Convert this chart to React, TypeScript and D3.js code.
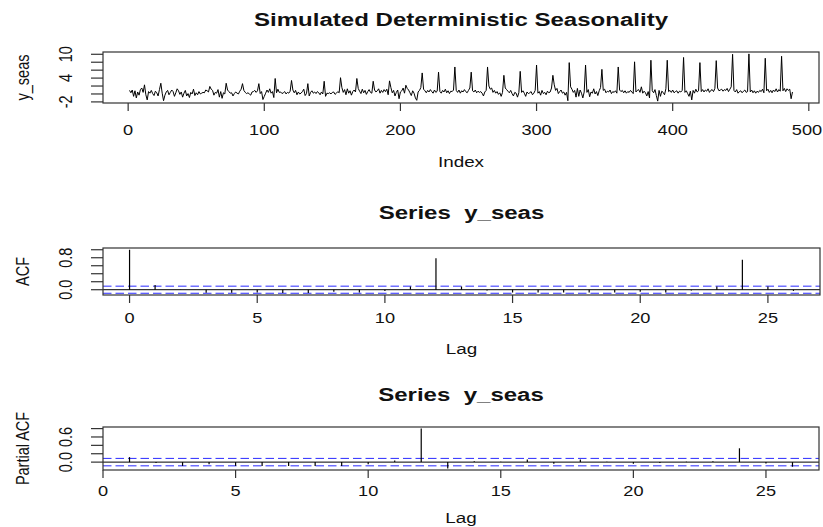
import React from 'react';
import * as d3 from 'd3';

// Simulated series (one row = one 12-step season, peak at the end of each row)
const ySeas: number[] = [
  0.9, 0.3, 1.0, -0.6, 0.8, -1.0, 0.5, -0.3, 1.1, 1.5, 0.4, 2.3,
  -0.2, -1.5, 0.6, 0.2, 0.9, 0.1, -0.4, 0.7, 0.3, -0.5, 1.1, 2.7,
  0.2, -1.7, -0.3, 0.5, 0.9, -0.2, 0.4, 1.0, 0.6, -0.6, 0.3, 1.3,
  0.8, -0.1, 0.5, -0.8, 0.2, 0.9, -0.5, 0.1, -0.9, 0.4, 0.0, 1.2,
  -0.4, 0.3, -0.2, 0.6, 0.0, 0.2, 0.4, 0.3, 1.0, 0.8, 0.5, 1.9,
  1.2, 0.9, -0.3, 0.4, 0.2, 1.1, -0.8, 0.6, -1.1, 0.3, 0.0, 2.7,
  1.0, 0.6, 0.2, 0.3, -0.5, 0.1, 0.5, 0.2, 0.0, 0.7, 1.2, 2.6,
  0.9, 0.4, 0.1, 0.3, 0.0, -0.3, 0.5, 0.6, 0.9, 0.4, 0.8, 2.6,
  0.1, 0.6, -1.4, -0.6, 0.2, 1.0, 0.4, 1.3, 0.2, 0.6, -0.9, 3.9,
  0.3, 1.2, 0.4, 0.5, 0.1, 0.3, 0.6, 0.0, 0.4, 0.2, 0.7, 3.4,
  1.0, 0.3, 0.9, -0.2, 0.5, 0.0, 0.2, 0.6, 1.2, -0.4, 0.1, 2.6,
  -0.5, 0.4, 0.8, 0.2, 0.5, 0.1, 0.6, 0.3, -0.2, 0.5, 0.0, 3.2,
  -0.6, 0.2, 0.1, 0.3, 0.0, 0.4, 0.5, -0.1, 0.2, 0.6, 0.3, 4.1,
  1.6, 0.4, 1.1, -0.2, 1.3, 0.2, 0.8, -0.3, 0.6, 1.0, 0.5, 3.9,
  1.4, 0.7, 0.1, 1.2, 0.3, 0.9, -0.1, 0.6, 1.1, 0.4, 0.2, 3.2,
  1.0, 0.5, 0.8, 1.3, 0.2, 0.9, 0.4, 1.1, 0.6, 1.2, -0.2, 3.3,
  1.6, 0.3, 0.9, -0.5, 0.4, 1.0, -1.2, 0.5, 0.8, 1.5, 0.2, 2.2,
  1.4, 1.0, 0.3, -0.4, 0.8, 0.2, -1.0, -1.6, 0.5, 0.9, 1.6, 5.3,
  1.2, 0.8, 0.3, 0.9, 0.5, 1.1, 0.6, 0.2, 1.0, 0.4, 0.7, 5.5,
  0.6, 0.2, 0.9, 0.5, 1.2, 0.3, 0.8, 0.1, 0.7, 0.6, 1.0, 6.8,
  0.9, 0.4, 1.0, 0.2, 0.8, 0.5, 1.1, 0.6, 0.3, 0.9, 1.5, 5.5,
  0.8, 0.5, 1.0, 0.3, 0.7, 0.4, 0.6, 0.2, -0.5, 0.5, 0.9, 6.8,
  2.0, 1.2, 1.5, 0.4, 0.9, 0.2, 0.6, -0.1, 0.3, -0.6, 0.4, 4.7,
  1.5, 1.1, 0.7, 0.3, 0.9, 0.1, -0.5, 0.4, 0.2, -0.8, 0.3, 5.7,
  0.4, 0.8, 0.2, -0.6, 0.5, 0.1, 0.3, 0.6, -0.2, 0.2, 0.9, 7.3,
  0.2, 0.6, -0.3, 0.9, 0.1, 0.4, -0.2, 0.7, 0.3, 0.5, 1.5, 4.7,
  2.3, 0.9, 1.4, 0.1, 0.6, 1.0, 0.2, 0.5, -0.3, 0.4, -1.7, 7.9,
  1.8, 1.2, 0.4, 0.9, -0.8, 1.4, -0.6, 1.0, 0.2, -1.0, 0.5, 7.3,
  0.4, 1.1, -0.7, 0.5, 0.2, 1.3, 0.0, 0.6, -0.4, 0.8, 1.6, 6.2,
  0.9, 1.2, 0.3, 0.7, 0.5, 1.0, 0.1, 0.6, 0.4, 0.8, 0.2, 6.8,
  1.0, 0.6, 0.9, 0.3, 0.8, 0.2, 0.6, 0.4, 0.9, 0.5, 0.1, 8.1,
  0.5, 0.9, 1.1, 0.4, 1.8, 0.2, 0.7, 0.3, -0.5, 0.6, -1.0, 8.5,
  0.8, 0.3, 1.1, -0.4, -1.8, 0.9, -0.6, 0.7, 0.4, -0.2, 1.3, 8.5,
  0.6, 0.9, 0.4, 1.0, 0.3, 0.6, 0.8, 0.2, 0.7, 0.5, 0.9, 9.2,
  0.4, 0.8, 0.1, -0.6, 0.7, -1.5, 0.9, 0.2, 1.2, 0.5, 0.8, 7.9,
  0.6, 1.1, 0.5, 1.0, 0.7, 1.3, 0.4, 0.9, 1.1, 0.6, 1.4, 8.4,
  1.5, 0.8, 1.0, 1.2, 0.7, 1.1, 0.9, 1.4, 0.6, 1.2, 1.8, 10.0,
  0.9, 0.5, 1.1, 0.2, 0.6, 0.8, 0.3, 0.7, 1.0, 0.4, 0.6, 10.1,
  0.5, 1.0, 0.3, 0.8, 0.2, 0.7, 0.4, 0.9, 0.6, 1.2, 0.3, 9.0,
  0.8, 1.2, 0.4, 0.9, 0.3, 1.0, 0.6, 1.3, 0.5, 1.1, 0.7, 9.5,
  0.8, 1.4, 0.6, 1.3, 0.9, 1.2, -1.2, 0.5,
];

const acfLags: number[] = [0, 1, 2, 3, 4, 5, 6, 7, 8, 9, 10, 11, 12, 13, 14, 15, 16, 17, 18, 19, 20, 21, 22, 23, 24, 25, 26];
const acfValues: number[] = [1.0, 0.12, -0.01, -0.075, -0.075, -0.07, -0.08, -0.08, -0.05, -0.07, -0.03, 0.08, 0.79, 0.08, -0.02, -0.07, -0.07, -0.07, -0.07, -0.07, -0.05, -0.07, -0.02, 0.08, 0.75, 0.08, -0.03];

const pacfLags: number[] = [1, 2, 3, 4, 5, 6, 7, 8, 9, 10, 11, 12, 13, 14, 15, 16, 17, 18, 19, 20, 21, 22, 23, 24, 25, 26];
const pacfValues: number[] = [0.12, -0.02, -0.09, -0.05, -0.09, -0.09, -0.09, -0.09, -0.09, -0.05, 0.04, 0.80, -0.15, 0.02, 0.01, 0.06, -0.04, 0.06, 0.01, -0.04, -0.02, 0.01, 0.02, 0.33, -0.03, -0.11];

const seriesXTicks: number[] = [0, 100, 200, 300, 400, 500];
const seriesYTicks: number[] = [-2, 0, 2, 4, 6, 8, 10];
const seriesYLabels: number[] = [-2, 4, 10];
const lagXTicks: number[] = [0, 5, 10, 15, 20, 25];
const acfYTicks: number[] = [0, 0.2, 0.4, 0.6, 0.8, 1.0];
const acfYLabels: number[] = [0, 0.8];
const pacfYTicks: number[] = [0, 0.2, 0.4, 0.6, 0.8];
const pacfYLabels: number[] = [0, 0.6];

const W = 823;
const H = 527;
const FONT = "'Liberation Sans', Arial, Helvetica, sans-serif";
const SX = 1.3;
const AXIS = '#333';

function Txt(props: { x: number; y: number; children: any; size?: number; bold?: boolean; rotate?: number; anchor?: string }) {
  const { x, y, children, size = 14.5, bold = false, rotate = 0, anchor = 'middle' } = props;
  return (
    <text
      transform={`translate(${x},${y}) scale(${SX},1)${rotate ? ` rotate(${rotate})` : ''}`}
      fontSize={size}
      fontWeight={bold ? 'bold' : 'normal'}
      textAnchor={anchor as any}
      fontFamily={FONT}
      fill="#111"
      xmlSpace="preserve"
      style={{ whiteSpace: 'pre' }}
    >
      {children}
    </text>
  );
}

function pad(lo: number, hi: number): [number, number] {
  const r = hi - lo;
  return [lo - 0.04 * r, hi + 0.04 * r];
}

type Box = { x0: number; x1: number; y0: number; y1: number };

function Frame(props: {
  box: Box;
  xs: d3.ScaleLinear<number, number>;
  ys: d3.ScaleLinear<number, number>;
  xTicks: number[];
  yTicks: number[];
  yLabels: number[];
  yFmt: (v: number) => string;
  xLabelY: number;
  xTitle: string;
  xTitleY: number;
  yTitle: string;
  title: string;
  titleY: number;
  titleSize: number;
}) {
  const { box, xs, ys, xTicks, yTicks, yLabels, yFmt, xLabelY, xTitle, xTitleY, yTitle, title, titleY, titleSize } = props;
  const cx = (box.x0 + box.x1) / 2;
  const cy = (box.y0 + box.y1) / 2;
  return (
    <g>
      <rect x={box.x0} y={box.y0} width={box.x1 - box.x0} height={box.y1 - box.y0} fill="none" stroke={AXIS} strokeWidth={1.2} />
      {xTicks.map((t) => (
        <g key={'xt' + t}>
          <line x1={xs(t)} x2={xs(t)} y1={box.y1} y2={box.y1 + 8} stroke={AXIS} strokeWidth={1.2} />
          <Txt x={Math.min(xs(t), W - 16)} y={xLabelY} size={14}>{String(t)}</Txt>
        </g>
      ))}
      {yTicks.map((t) => (
        <line key={'yt' + t} x1={box.x0 - 12} x2={box.x0} y1={ys(t)} y2={ys(t)} stroke={AXIS} strokeWidth={1.2} />
      ))}
      {yLabels.map((t) => (
        <Txt key={'yl' + t} x={72} y={ys(t)} rotate={-90}>{yFmt(t)}</Txt>
      ))}
      <Txt x={cx} y={xTitleY}>{xTitle}</Txt>
      <Txt x={29} y={cy} rotate={-90}>{yTitle}</Txt>
      <Txt x={cx} y={titleY} bold size={titleSize}>{title}</Txt>
    </g>
  );
}

export default function App() {
  const n = ySeas.length;

  // Panel 1: series
  const b1: Box = { x0: 103, x1: 819, y0: 52, y1: 103 };
  const xs1 = d3.scaleLinear().domain(pad(1, n)).range([b1.x0, b1.x1]);
  const ext = d3.extent(ySeas) as [number, number];
  const ys1 = d3.scaleLinear().domain(pad(ext[0], ext[1])).range([b1.y1, b1.y0]);
  const line = d3
    .line<number>()
    .x((_, i) => xs1(i + 1))
    .y((d) => ys1(d));

  const ci = 1.96 / Math.sqrt(n);

  // Panel 2: ACF
  const b2: Box = { x0: 103, x1: 820, y0: 248, y1: 295 };
  const xs2 = d3.scaleLinear().domain(pad(acfLags[0], acfLags[acfLags.length - 1])).range([b2.x0, b2.x1]);
  const ys2 = d3
    .scaleLinear()
    .domain(pad(Math.min(-ci, d3.min(acfValues) as number), Math.max(ci, d3.max(acfValues) as number)))
    .range([b2.y1, b2.y0]);

  // Panel 3: PACF
  const b3: Box = { x0: 103, x1: 819, y0: 427, y1: 470 };
  const xs3 = d3.scaleLinear().domain(pad(pacfLags[0], pacfLags[pacfLags.length - 1])).range([b3.x0, b3.x1]);
  const ys3 = d3
    .scaleLinear()
    .domain(pad(Math.min(-ci, d3.min(pacfValues) as number), Math.max(ci, d3.max(pacfValues) as number)))
    .range([b3.y1, b3.y0]);

  const fmt1 = (v: number) => v.toFixed(1);

  return (
    <svg width={W} height={H} style={{ position: 'absolute', left: 0, top: 0, background: '#fff' }}>
      <rect x={0} y={0} width={W} height={H} fill="#fff" />

      {/* Panel 1 */}
      <path d={line(ySeas) || ''} fill="none" stroke="#000" strokeWidth={1} />
      <Frame
        box={b1}
        xs={xs1}
        ys={ys1}
        xTicks={seriesXTicks}
        yTicks={seriesYTicks}
        yLabels={seriesYLabels}
        yFmt={(v) => String(v)}
        xLabelY={135}
        xTitle="Index"
        xTitleY={166.5}
        yTitle="y_seas"
        title="Simulated Deterministic Seasonality"
        titleY={26}
        titleSize={18.5}
      />

      {/* Panel 2 */}
      <g>
        <line x1={b2.x0} x2={b2.x1} y1={ys2(0)} y2={ys2(0)} stroke="#000" strokeWidth={1} />
        {[ci, -ci].map((c) => (
          <line key={c} x1={b2.x0} x2={b2.x1} y1={ys2(c)} y2={ys2(c)} stroke="#2a2aff" strokeWidth={1} strokeDasharray="8.5,4" />
        ))}
        {acfLags.map((l, i) => (
          <line key={l} x1={xs2(l)} x2={xs2(l)} y1={ys2(0)} y2={ys2(acfValues[i])} stroke="#000" strokeWidth={1.2} />
        ))}
      </g>
      <Frame
        box={b2}
        xs={xs2}
        ys={ys2}
        xTicks={lagXTicks}
        yTicks={acfYTicks}
        yLabels={acfYLabels}
        yFmt={fmt1}
        xLabelY={323.3}
        xTitle="Lag"
        xTitleY={353.5}
        yTitle="ACF"
        title="Series  y_seas"
        titleY={219.3}
        titleSize={18.5}
      />

      {/* Panel 3 */}
      <g>
        <line x1={b3.x0} x2={b3.x1} y1={ys3(0)} y2={ys3(0)} stroke="#000" strokeWidth={1} />
        {[ci, -ci].map((c) => (
          <line key={c} x1={b3.x0} x2={b3.x1} y1={ys3(c)} y2={ys3(c)} stroke="#2a2aff" strokeWidth={1} strokeDasharray="8.5,4" />
        ))}
        {pacfLags.map((l, i) => (
          <line key={l} x1={xs3(l)} x2={xs3(l)} y1={ys3(0)} y2={ys3(pacfValues[i])} stroke="#000" strokeWidth={1.2} />
        ))}
      </g>
      <Frame
        box={b3}
        xs={xs3}
        ys={ys3}
        xTicks={lagXTicks}
        yTicks={pacfYTicks}
        yLabels={pacfYLabels}
        yFmt={fmt1}
        xLabelY={496}
        xTitle="Lag"
        xTitleY={523}
        yTitle="Partial ACF"
        title="Series  y_seas"
        titleY={401}
        titleSize={18.5}
      />
    </svg>
  );
}
